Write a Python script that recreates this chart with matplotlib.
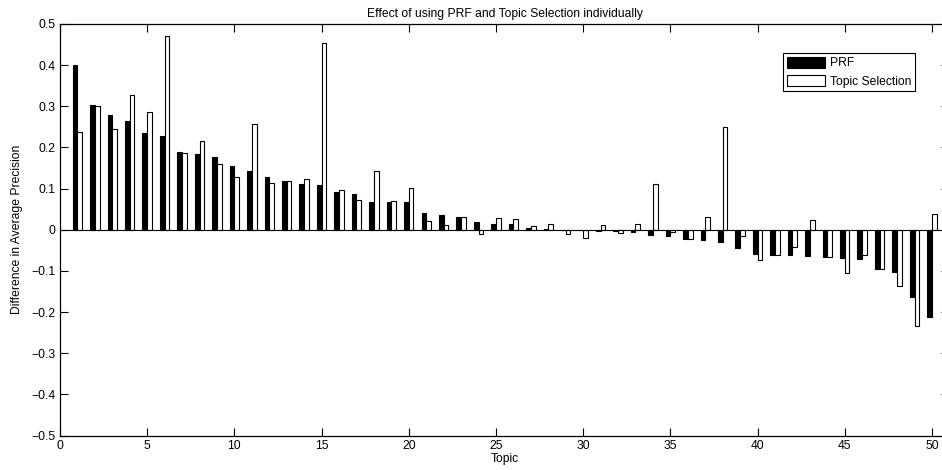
import numpy as np
import matplotlib
matplotlib.use("Agg")
import matplotlib.pyplot as plt
from matplotlib.ticker import FuncFormatter

topics = list(range(1, 51))
prf = [0.400, 0.303, 0.280, 0.265, 0.234, 0.229, 0.188, 0.183, 0.177, 0.154,
       0.143, 0.128, 0.119, 0.110, 0.108, 0.091, 0.088, 0.068, 0.068, 0.067,
       0.041, 0.035, 0.032, 0.019, 0.014, 0.014, 0.005, 0.001, -0.001, 0.0,
       -0.004, -0.004, -0.006, -0.012, -0.014, -0.023, -0.026, -0.029, -0.045, -0.060,
       -0.061, -0.061, -0.063, -0.066, -0.068, -0.070, -0.095, -0.102, -0.164, -0.213]
topic_sel = [0.238, 0.301, 0.246, 0.327, 0.285, 0.470, 0.186, 0.215, 0.160, 0.129,
             0.256, 0.113, 0.119, 0.124, 0.455, 0.096, 0.072, 0.143, 0.070, 0.101,
             0.021, 0.011, 0.032, -0.011, 0.028, 0.027, 0.009, 0.014, -0.011, -0.020,
             0.011, -0.008, 0.015, 0.111, -0.006, -0.023, 0.031, 0.249, -0.015, -0.074,
             -0.061, -0.043, 0.023, -0.067, -0.106, -0.062, -0.095, -0.137, -0.233, 0.039]
series_names = ["PRF", "Topic Selection"]
title = "Effect of using PRF and Topic Selection individually"
xlabel = "Topic"
ylabel = "Difference in Average Precision"

plt.rcParams['font.family'] = ['Liberation Sans', 'DejaVu Sans']
fs = 8.7

fig = plt.figure(figsize=(9.42, 4.70), dpi=100)
ax = fig.add_axes([60/942, 34.5/470, 889.4/942, 411.5/470])

x = np.array(topics, dtype=float)
w = 0.27
ax.bar(x, prf, width=w, align='edge', color='black', edgecolor='black',
       linewidth=0.8, label=series_names[0], zorder=2)
ax.bar(x, topic_sel, width=w, align='edge', color='white', edgecolor='black',
       linewidth=0.8, label=series_names[1], zorder=2)
# PRF bars sit left of the topic position
for p in ax.patches[:len(topics)]:
    p.set_x(p.get_x() - w)

ax.axhline(0, color='black', linewidth=0.8, zorder=3)

ax.set_xlim(0, 51)
ax.set_ylim(-0.5, 0.5)
ax.set_xticks(np.arange(0, 51, 5))
ax.set_yticks(np.round(np.arange(-0.5, 0.51, 0.1), 1))


def fmt(v, pos):
    s = "%g" % round(v, 1)
    if s == "-0":
        s = "0"
    return s.replace("-", "\u2212")


ax.yaxis.set_major_formatter(FuncFormatter(fmt))
ax.tick_params(direction='in', length=6, width=0.8, top=True, right=True,
               labelsize=fs, pad=3)
for s in ax.spines.values():
    s.set_linewidth(0.9)

ax.set_title(title, fontsize=fs, pad=5)
ax.set_xlabel(xlabel, fontsize=fs, labelpad=1)
ax.set_ylabel(ylabel, fontsize=fs, labelpad=6)

leg = ax.legend(loc='upper right', bbox_to_anchor=(0.961, 0.9295), fontsize=fs,
                fancybox=False, edgecolor='black', framealpha=1,
                handlelength=3.15, handleheight=1.05, handletextpad=0.4,
                labelspacing=0.45, borderpad=0.3, borderaxespad=0.0)
leg.get_frame().set_linewidth(0.8)

fig.savefig("out.png", dpi=100)
